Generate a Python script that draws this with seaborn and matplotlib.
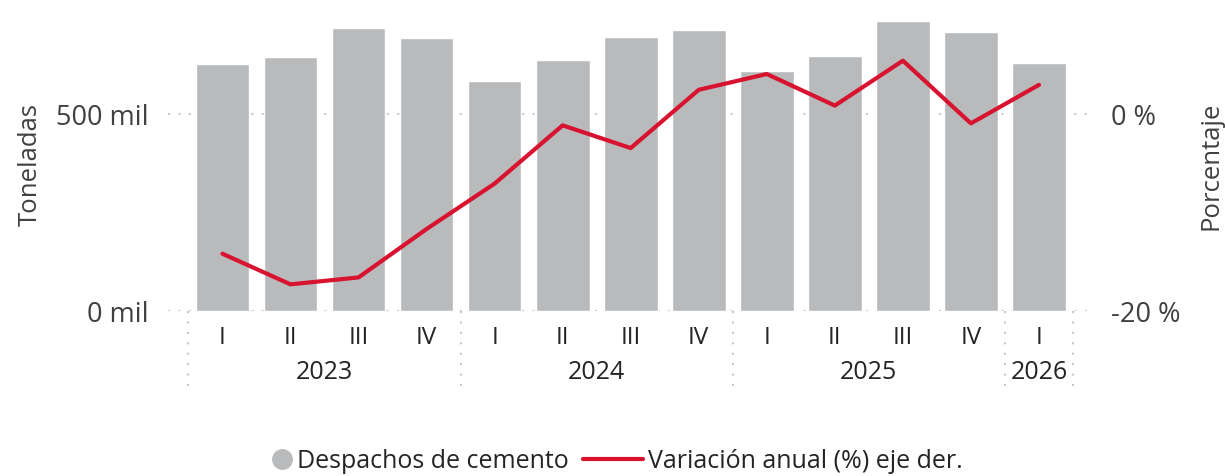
import numpy as np
import pandas as pd
import matplotlib
matplotlib.use("Agg")
import matplotlib.pyplot as plt
import matplotlib.transforms as mtransforms
from matplotlib.lines import Line2D
import seaborn as sns

years = ["2023", "2023", "2023", "2023", "2024", "2024", "2024", "2024",
         "2025", "2025", "2025", "2025", "2026"]
quarters = ["I", "II", "III", "IV", "I", "II", "III", "IV",
            "I", "II", "III", "IV", "I"]
despachos = [625, 643, 716, 691, 582, 635, 694, 711, 608, 646, 734, 706, 628]  # miles de toneladas
variacion = [-14.2, -17.3, -16.6, -11.7, -7.1, -1.2, -3.5, 2.4, 4.0, 0.8, 5.35, -1.0, 2.9]

left_ticks = [0, 500]
left_ticklabels = ["0 mil", "500 mil"]
right_ticks = [-20, 0]
right_ticklabels = ["-20 %", "0 %"]

BAR = "#B9BABC"
RED = "#D7132F"
TXT = "#252423"
AX = "#404040"
GRID = "#C8C8C8"

sns.set_theme(style="white")
plt.rcParams["font.family"] = ["Open Sans", "DejaVu Sans"]

df = pd.DataFrame({"key": [f"{y}-{q}" for y, q in zip(years, quarters)],
                   "year": years, "q": quarters,
                   "t": despachos, "v": variacion})
df["pos"] = np.arange(len(df))

fig = plt.figure(figsize=(12.25, 4.77), dpi=100)
ax = fig.add_axes([168 / 1225, 1 - 312 / 477, (1090 - 168) / 1225, 302 / 477])

sns.barplot(data=df, x="key", y="t", color=BAR, width=0.79, ax=ax,
            saturation=1, zorder=2)
ax.set_xlim(-0.8, 12.75)
ax.set_ylim(0, 302 / 0.395)
ax.set_yticks(left_ticks)
ax.set_yticklabels(left_ticklabels)
ax.set_xticks(df["pos"])
ax.set_xticklabels(df["q"])
ax.tick_params(axis="x", length=0, pad=10, labelsize=17.5, labelcolor=TXT)
ax.tick_params(axis="y", length=0, pad=14, labelsize=19.5, labelcolor=AX)
ax.set_xlabel("")
ax.set_ylabel("")
ax.yaxis.grid(True, color=GRID, linestyle=(0, (1, 4)), linewidth=1.5, zorder=0)
ax.set_axisbelow(True)
for s in ax.spines.values():
    s.set_visible(False)

ax2 = ax.twinx()
sns.lineplot(data=df, x="pos", y="v", color=RED, linewidth=3, ax=ax2, zorder=3)
ax2.set_ylim(-20, -20 + 302 / 9.875)
ax2.set_yticks(right_ticks)
ax2.set_yticklabels(right_ticklabels)
ax2.tick_params(axis="y", length=0, pad=15, labelsize=19.5, labelcolor=AX)
ax2.set_ylabel("")
ax2.set_xlabel("")
ax2.grid(False)
for s in ax2.spines.values():
    s.set_visible(False)

fig.text(30 / 1225, 1 - 165 / 477, "Toneladas", rotation=90, ha="center",
         va="center", fontsize=18.5, color=AX)
fig.text(1211 / 1225, 1 - 166 / 477, "Porcentaje", rotation=90, ha="center",
         va="center", fontsize=18.5, color=AX)

# hierarchical year labels and separators
trans = mtransforms.blended_transform_factory(ax.transData, ax.transAxes)
bounds = [-0.5]
for i in range(1, len(years)):
    if years[i] != years[i - 1]:
        bounds.append(i - 0.5)
bounds.append(len(years) - 0.5)
for b in bounds:
    ax.plot([b, b], [0, -0.275], transform=trans, clip_on=False,
            color=GRID, linestyle=(0, (1, 4)), linewidth=1.5)
uniq = list(dict.fromkeys(years))
for y in uniq:
    idx = [i for i, yy in enumerate(years) if yy == y]
    ax.text((idx[0] + idx[-1]) / 2, -61 / 302, y, transform=trans,
            ha="center", va="center", fontsize=18, color=TXT)

h1 = Line2D([], [], marker="o", linestyle="none", markersize=14,
            markerfacecolor=BAR, markeredgecolor=BAR)
h2 = Line2D([], [], color=RED, linewidth=3)
leg1 = fig.legend([h1], ["Despachos de cemento"], loc="center left",
                  bbox_to_anchor=(258 / 1225, 1 - 462 / 477), frameon=False,
                  fontsize=18, handlelength=0.9, handletextpad=0.15,
                  borderpad=0, labelcolor=TXT)
leg2 = fig.legend([h2], ["Variación anual (%) eje der."], loc="center left",
                  bbox_to_anchor=(570 / 1225, 1 - 462 / 477), frameon=False,
                  fontsize=18, handlelength=2.4, handletextpad=0.2,
                  borderpad=0, labelcolor=TXT)

fig.savefig("out.png", dpi=100)
